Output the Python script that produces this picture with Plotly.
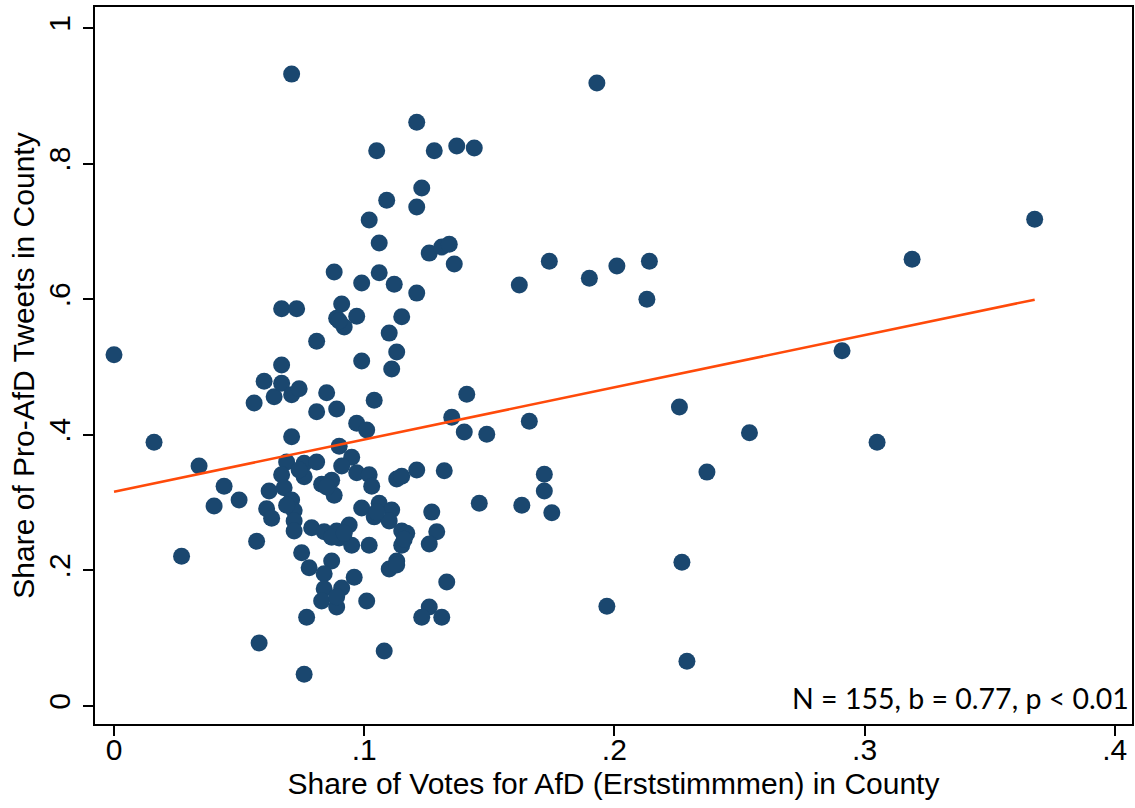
import plotly.graph_objects as go

# Share of votes for AfD (Erststimmen) in county
vote_share = [
    0.000, 0.016, 0.027, 0.034, 0.040, 0.044, 0.050, 0.056, 0.057, 0.058,
    0.060, 0.061, 0.062, 0.063, 0.064, 0.067, 0.067, 0.067, 0.069, 0.067,
    0.068, 0.071, 0.072, 0.072, 0.072, 0.071, 0.071, 0.074, 0.071, 0.073,
    0.076, 0.081, 0.076, 0.083, 0.087, 0.088, 0.090, 0.095, 0.091, 0.097,
    0.102, 0.103, 0.113, 0.115, 0.121, 0.132, 0.099, 0.106, 0.104, 0.111,
    0.110, 0.079, 0.084, 0.089, 0.094, 0.090, 0.095, 0.102, 0.115, 0.117,
    0.115, 0.127, 0.129, 0.126, 0.075, 0.078, 0.087, 0.084, 0.096, 0.084,
    0.091, 0.083, 0.089, 0.101, 0.077, 0.110, 0.113, 0.133, 0.126, 0.123,
    0.131, 0.076, 0.108, 0.081, 0.085, 0.081, 0.089, 0.097, 0.101, 0.104,
    0.099, 0.113, 0.111, 0.091, 0.097, 0.089, 0.092, 0.115, 0.110, 0.088,
    0.099, 0.106, 0.112, 0.121, 0.102, 0.106, 0.109, 0.105, 0.121, 0.123,
    0.121, 0.128, 0.137, 0.144, 0.126, 0.131, 0.134, 0.136, 0.135, 0.140,
    0.141, 0.149, 0.146, 0.163, 0.166, 0.172, 0.172, 0.175, 0.162, 0.174,
    0.190, 0.201, 0.214, 0.213, 0.193, 0.197, 0.226, 0.227, 0.229, 0.237,
    0.254, 0.291, 0.305, 0.319, 0.368, 0.069, 0.087, 0.092, 0.116, 0.105,
    0.089, 0.074, 0.090, 0.113, 0.085,
]

# Share of pro-AfD tweets in county
tweet_share = [
    0.518, 0.389, 0.221, 0.354, 0.295, 0.324, 0.304, 0.447, 0.243, 0.093,
    0.479, 0.291, 0.317, 0.277, 0.456, 0.586, 0.503, 0.476, 0.360, 0.341,
    0.322, 0.304, 0.288, 0.273, 0.258, 0.397, 0.459, 0.468, 0.932, 0.586,
    0.358, 0.360, 0.338, 0.327, 0.333, 0.311, 0.383, 0.367, 0.354, 0.344,
    0.341, 0.324, 0.335, 0.339, 0.348, 0.347, 0.292, 0.299, 0.279, 0.289,
    0.273, 0.263, 0.257, 0.258, 0.267, 0.248, 0.237, 0.237, 0.258, 0.255,
    0.237, 0.286, 0.257, 0.239, 0.226, 0.204, 0.214, 0.195, 0.190, 0.173,
    0.174, 0.155, 0.146, 0.155, 0.131, 0.202, 0.214, 0.183, 0.146, 0.131,
    0.131, 0.047, 0.081, 0.538, 0.462, 0.434, 0.438, 0.417, 0.407, 0.451,
    0.509, 0.522, 0.497, 0.593, 0.575, 0.572, 0.559, 0.574, 0.550, 0.640,
    0.624, 0.639, 0.622, 0.609, 0.717, 0.683, 0.746, 0.819, 0.736, 0.764,
    0.861, 0.819, 0.826, 0.823, 0.668, 0.677, 0.681, 0.652, 0.426, 0.404,
    0.460, 0.401, 0.299, 0.296, 0.420, 0.342, 0.317, 0.285, 0.621, 0.656,
    0.631, 0.649, 0.656, 0.600, 0.919, 0.147, 0.441, 0.212, 0.066, 0.345,
    0.403, 0.524, 0.389, 0.659, 0.718, 0.296, 0.249, 0.255, 0.246, 0.286,
    0.161, 0.348, 0.568, 0.208, 0.323,
]

# Linear fit
fit_intercept = 0.316
fit_slope = 0.77

x_ticks = [0, 0.1, 0.2, 0.3, 0.4]
x_tick_labels = ["0", ".1", ".2", ".3", ".4"]
y_ticks = [0, 0.2, 0.4, 0.6, 0.8, 1.0]
y_tick_labels = ["0", ".2", ".4", ".6", ".8", "1"]

note_text = "N = 155, b = 0.77, p < 0.01"
x_title = "Share of Votes for AfD (Erststimmmen) in County"
y_title = "Share of Pro-AfD Tweets in County"

fit_x = [min(vote_share), max(vote_share)]
fit_y = [fit_intercept + fit_slope * v for v in fit_x]

FONT = "Liberation Sans, Arial, sans-serif"

fig = go.Figure()
fig.add_trace(go.Scatter(
    x=vote_share, y=tweet_share, mode="markers",
    marker=dict(size=17, color="#1a476f", line=dict(width=0)),
    showlegend=False, hoverinfo="x+y",
))
fig.add_trace(go.Scatter(
    x=fit_x, y=fit_y, mode="lines",
    line=dict(color="#ff4a0a", width=2.5),
    showlegend=False,
))

axis_common = dict(
    showgrid=False, zeroline=False, showline=True, linecolor="black",
    linewidth=2, mirror=True, ticks="outside", ticklen=10, tickwidth=2,
    tickcolor="black", tickfont=dict(family=FONT, size=30, color="black"),
)

fig.update_layout(
    width=1135, height=808,
    margin=dict(l=95, r=1, t=7, b=84),
    paper_bgcolor="white", plot_bgcolor="white",
    xaxis=dict(
        range=[-0.0076, 0.4069], tickvals=x_ticks, ticktext=x_tick_labels,
        ticklabelstandoff=-12,
        title=dict(text=x_title, font=dict(family=FONT, size=30, color="black"), standoff=8),
        **axis_common,
    ),
    yaxis=dict(
        range=[-0.0265, 1.031], tickvals=y_ticks, ticktext=y_tick_labels,
        tickangle=-90, ticklabelstandoff=1,
        title=dict(text=y_title, font=dict(family=FONT, size=30, color="black"), standoff=0),
        **axis_common,
    ),
    annotations=[dict(
        text=note_text, xref="paper", yref="paper", x=0.999, y=0.036,
        xanchor="right", yanchor="middle", showarrow=False,
        font=dict(family="Lato, Open Sans, sans-serif", size=28.5, color="black"),
    )],
)

fig.write_html("out.html")
